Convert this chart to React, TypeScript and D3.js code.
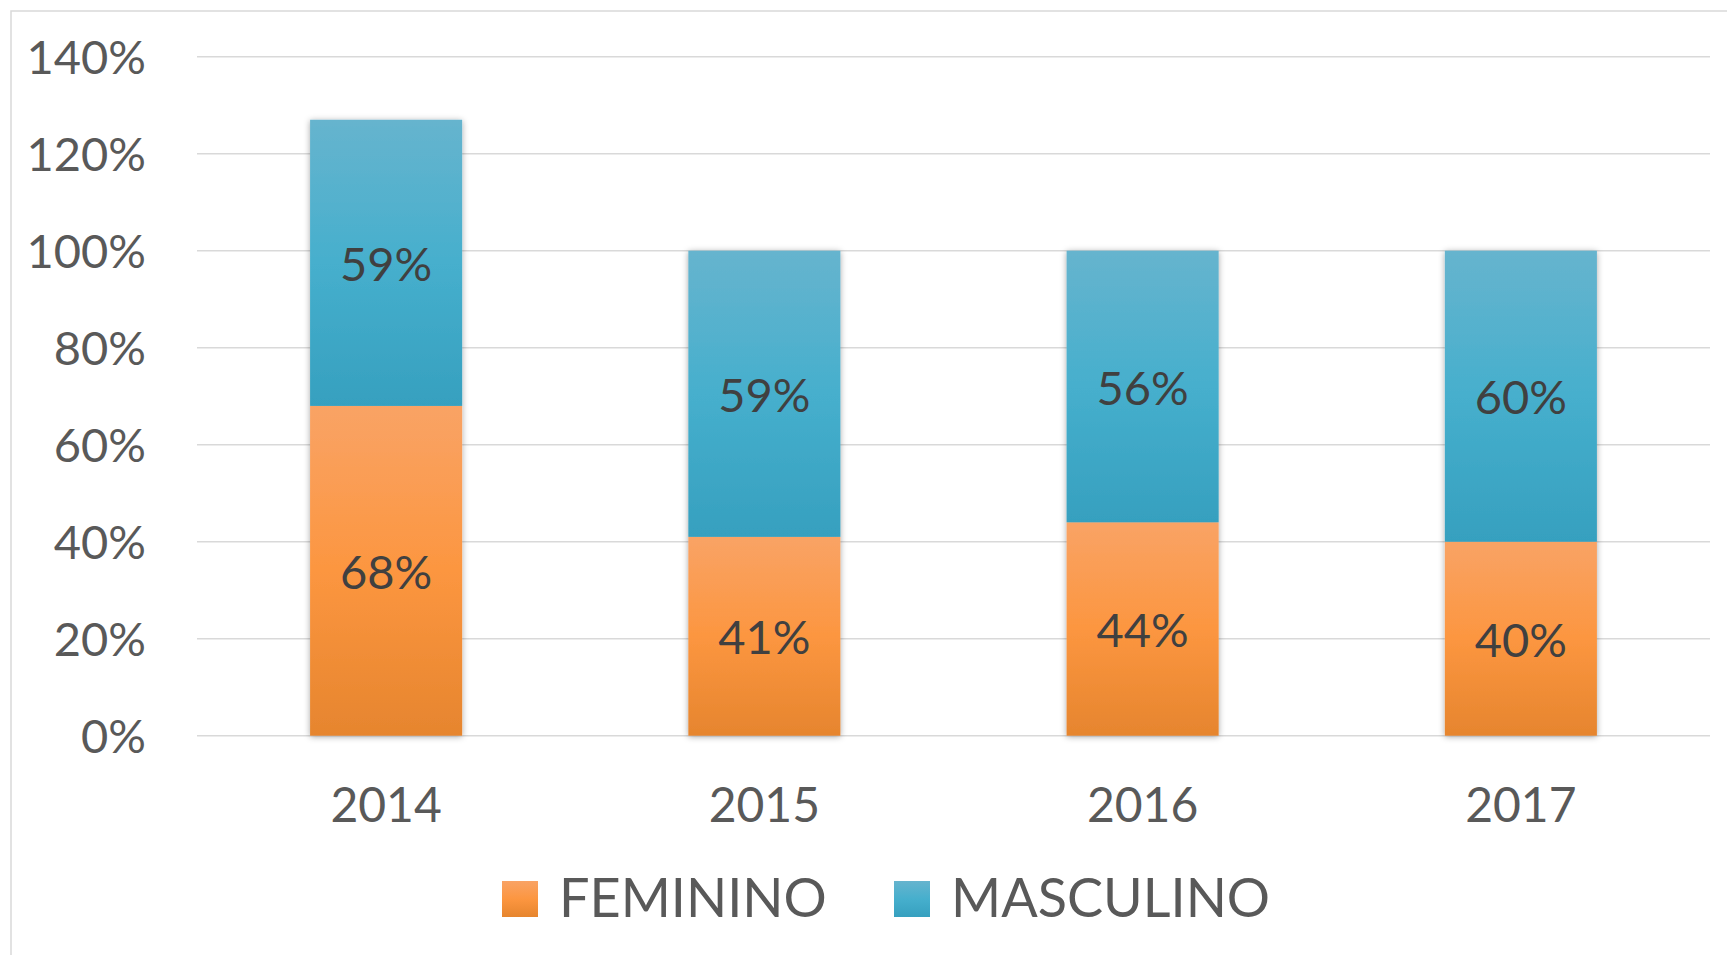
import React from "react";
import * as d3 from "d3";

const years = ["2014", "2015", "2016", "2017"];
const feminino = [68, 41, 44, 40];
const masculino = [59, 59, 56, 60];
const yTicks = [0, 20, 40, 60, 80, 100, 120, 140];
const seriesNames = ["FEMININO", "MASCULINO"];

const W = 1727;
const H = 955;
const FONT = "Lato, 'Open Sans', sans-serif";

export default function App() {
  const rows = years.map((y, i) => ({ year: y, FEMININO: feminino[i], MASCULINO: masculino[i] }));
  const stack = d3.stack<any>().keys(seriesNames);
  const stacked = stack(rows);

  const x = d3.scaleBand<string>().domain(years).range([197, 1710]).paddingInner(0.598).paddingOuter(0.299);
  const y = d3.scaleLinear().domain([0, 140]).range([735.7, 56.7]);

  const gradIds = ["gradF", "gradM"];
  const legendX = [502, 894];

  return (
    <svg width={W} height={H} style={{ position: "absolute", left: 0, top: 0, background: "#fff" }}>
      <defs>
        <linearGradient id="gradF" x1="0" y1="0" x2="0" y2="1">
          <stop offset="0%" stopColor="#F9A365" />
          <stop offset="50%" stopColor="#FC9640" />
          <stop offset="100%" stopColor="#E6852E" />
        </linearGradient>
        <linearGradient id="gradM" x1="0" y1="0" x2="0" y2="1">
          <stop offset="0%" stopColor="#66B4CE" />
          <stop offset="50%" stopColor="#46AFCD" />
          <stop offset="100%" stopColor="#36A0BF" />
        </linearGradient>
        <filter id="shadow" x="-20%" y="-10%" width="140%" height="120%">
          <feDropShadow dx="0" dy="1" stdDeviation="3" floodColor="#000" floodOpacity="0.35" />
        </filter>
      </defs>
      <rect x={11} y={11} width={W + 20} height={H + 20} fill="#fff" stroke="#D9D9D9" strokeWidth={1.5} />
      {yTicks.map((t) => (
        <line key={t} x1={197} x2={1710} y1={y(t)} y2={y(t)} stroke="#D9D9D9" strokeWidth={1.4} />
      ))}
      {yTicks.map((t) => (
        <text key={"l" + t} x={146} y={y(t) + 17} textAnchor="end" fontFamily={FONT} fontSize={47} fill="#595959">
          {t + "%"}
        </text>
      ))}
      <g filter="url(#shadow)">
        {stacked.map((s, si) =>
          s.map((d, i) => (
            <rect
              key={si + "-" + i}
              x={x(years[i])}
              y={y(d[1])}
              width={x.bandwidth()}
              height={y(d[0]) - y(d[1])}
              fill={`url(#${gradIds[si]})`}
            />
          ))
        )}
      </g>
      {stacked.map((s, si) =>
        s.map((d, i) => (
          <text
            key={"t" + si + "-" + i}
            x={(x(years[i]) as number) + x.bandwidth() / 2}
            y={(y(d[0]) + y(d[1])) / 2 + 18}
            textAnchor="middle"
            fontFamily={FONT}
            fontSize={47}
            fill="#404040"
          >
            {(d[1] - d[0]) + "%"}
          </text>
        ))
      )}
      {years.map((yr) => (
        <text key={"x" + yr} x={(x(yr) as number) + x.bandwidth() / 2} y={821.7} textAnchor="middle" fontFamily={FONT} fontSize={48} fill="#595959">
          {yr}
        </text>
      ))}
      {seriesNames.map((n, i) => (
        <g key={"lg" + n}>
          <rect x={legendX[i]} y={881} width={36} height={36} fill={`url(#${gradIds[i]})`} />
          <text x={legendX[i] + 57} y={917} fontFamily={FONT} fontSize={54} fill="#595959">
            {n}
          </text>
        </g>
      ))}
    </svg>
  );
}
